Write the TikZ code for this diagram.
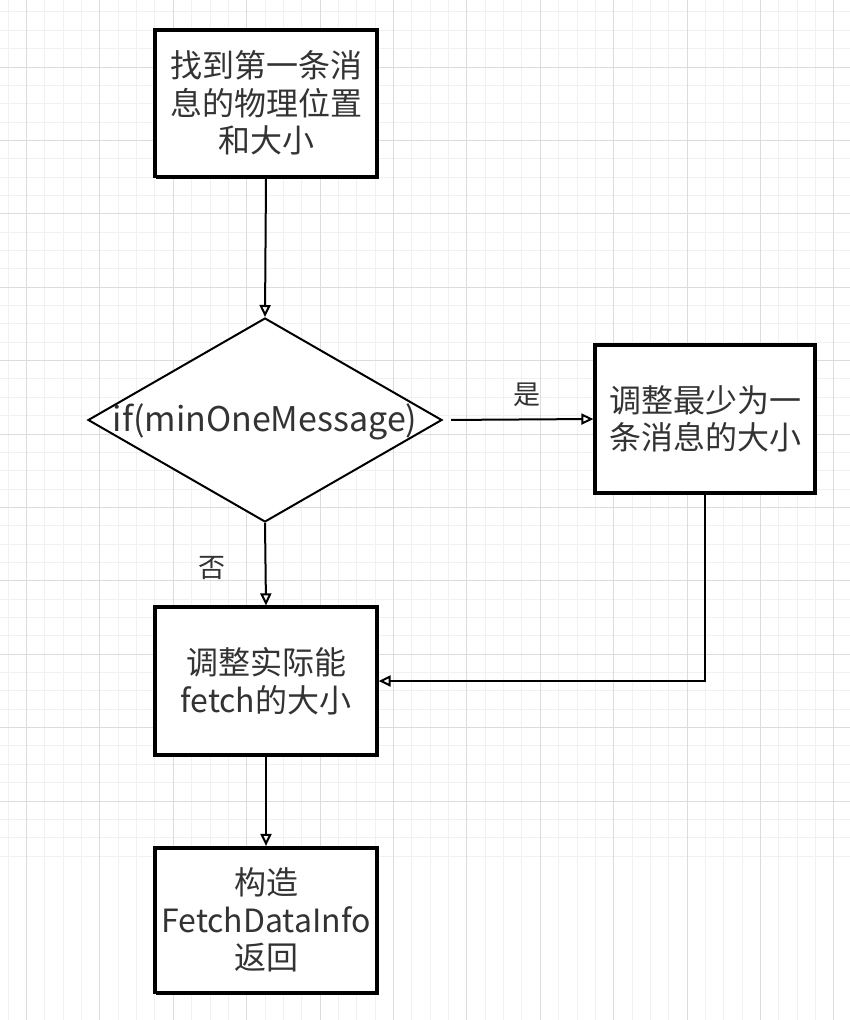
\documentclass[tikz,border=0pt]{standalone}
\usepackage{fontspec}
\usetikzlibrary{arrows.meta,shapes.geometric}
\newfontfamily\cjk{Noto Sans CJK SC}
\definecolor{gridminor}{HTML}{F1F1F1}
\definecolor{gridmajor}{HTML}{DCDCDC}
\definecolor{txt}{HTML}{333333}
\tikzset{
  sketchbox/.style={draw=black, fill=white, line width=3.2pt, inner sep=0pt,
    minimum width=222pt, minimum height=147pt, align=center, text=txt,
    font=\cjk\fontsize{32}{37.5}\selectfont,
    postaction={draw=black, line width=1.2pt, transform canvas={xshift=1.8pt,yshift=-1.6pt}}},
  flow/.style={draw=black, line width=2pt, -{Triangle[open,length=12pt,width=11pt]}},
  lbl/.style={text=txt, font=\cjk\fontsize{27}{30}\selectfont}
}
\begin{document}
\begin{tikzpicture}[x=1pt,y=-1pt]
\useasboundingbox (0,0) rectangle (850,1020);
\fill[white] (0,0) rectangle (850,1020);
% grid
\foreach \k in {-1,...,46} {
  \draw[gridminor, line width=1pt] ({8.15+18.35*\k},0) -- ({8.15+18.35*\k},1020);
  \draw[gridminor, line width=1pt] (0,{11.95+18.35*\k}) -- (850,{11.95+18.35*\k});
}
\foreach \k in {0,...,11} {
  \draw[gridmajor, line width=1pt] ({26.5+73.4*\k},0) -- ({26.5+73.4*\k},1020);
  \draw[gridmajor, line width=1pt] (0,{-6.4+73.4*\k}) -- (850,{-6.4+73.4*\k});
}
% nodes
\node[sketchbox] (b1) at (266,103) {找到第一条消\\息的物理位置\\和大小};
\node[diamond, draw=black, fill=white, line width=2pt, minimum width=354pt, minimum height=204pt, inner sep=0pt] (dec) at (265,420) {};
\node[text=txt, font=\cjk\fontsize{34}{40}\selectfont, inner sep=0pt] (dect) at (265,422) {if(minOneMessage)};
\node[sketchbox, minimum width=220pt, minimum height=148pt] (b2) at (705,419) {调整最少为一\\条消息的大小};
\node[sketchbox, minimum height=148pt] (b3) at (266,681) {调整实际能\\fetch的大小};
\node[sketchbox, minimum height=145pt] (b4) at (266,920) {构造\\FetchDataInfo\\返回};
% connectors
\draw[flow] (b1.south) -- (dec.north);
\draw[flow, shorten <=8pt] (dec.east) -- node[lbl, above=8pt, pos=0.56] (yes) {是} (b2.west);
\draw[flow] (dec.south) -- node[lbl, left=36pt, pos=0.55] (no) {否} (b3.north);
\draw[flow] (b2.south) |- (b3.east);
\draw[flow] (b3.south) -- (b4.north);
\end{tikzpicture}
\end{document}
